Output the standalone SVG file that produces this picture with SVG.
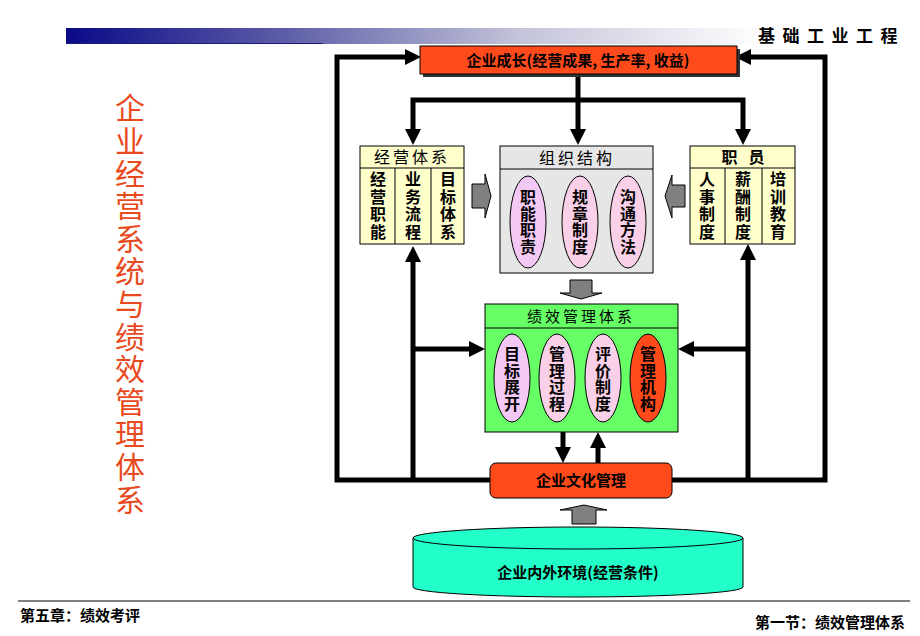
<svg xmlns="http://www.w3.org/2000/svg" width="920" height="636" viewBox="0 0 920 636">
<defs>
<linearGradient id="bar" x1="0" y1="0" x2="1" y2="0">
<stop offset="0" stop-color="#0a0a88"/>
<stop offset="0.3" stop-color="#5a5aa6"/>
<stop offset="0.65" stop-color="#c4c4da"/>
<stop offset="1" stop-color="#ffffff"/>
</linearGradient>
<marker id="ah" markerUnits="userSpaceOnUse" viewBox="0 0 16 16" markerWidth="16" markerHeight="16" refX="8" refY="8" orient="auto">
<path d="M0,0 L16,8 L0,16 Z" fill="#000"/>
</marker>
<style>
.cjk{font-family:"Noto Sans CJK SC","Noto Sans CJK JP",sans-serif}
.b{font-weight:bold}
.box{stroke:#000;stroke-width:1}
.yel{fill:#ffffcc}
.red{fill:#ff4b1c}
.pink{fill:#fad0e8;stroke:#000;stroke-width:1}
.vio{fill:#f4c8f4;stroke:#000;stroke-width:1}
.gray{fill:#808080;stroke:#000;stroke-width:1}
.conn{fill:none;stroke:#000;stroke-width:5;marker-end:url(#ah)}
.line{fill:none;stroke:#000;stroke-width:5}
.t16{font-size:16px}
.t15{font-size:15px}
.vt{font-size:16px;font-weight:bold;text-anchor:middle;writing-mode:vertical-rl}
.v1{letter-spacing:1.5px}
.v2{letter-spacing:0.5px}
</style>
</defs>
<rect width="920" height="636" fill="#fff"/>

<g id="header">
<rect x="66" y="28" width="700" height="16" fill="url(#bar)"/>
<line x1="66" y1="43.5" x2="323" y2="43.5" stroke="#1a1a80" stroke-width="1"/>
<text x="905" y="42" class="cjk b" font-size="17" text-anchor="end" letter-spacing="7.5">基础工业工程</text>
</g>

<g id="title">
<text x="130" y="305" class="cjk" font-size="30" fill="#e84a1e" text-anchor="middle" writing-mode="vertical-rl" letter-spacing="2.6">企业经营系统与绩效管理体系</text>
</g>

<g id="connectors">
<path class="line" d="M490,480 H337 V57 H412"/>
<path class="line" d="M672,480 H825 V57 H744"/>
<line x1="412" y1="57" x2="413" y2="57" class="conn"/>
<line x1="744" y1="57" x2="743" y2="57" class="conn"/>
<path class="conn" d="M578,74 V137"/>
<path class="line" d="M413,137 V100 H743 V137"/>
<line x1="413" y1="136" x2="413" y2="137" class="conn"/>
<line x1="743" y1="136" x2="743" y2="137" class="conn"/>
<path class="conn" d="M413,480 V254"/>
<path class="conn" d="M748,480 V252"/>
<path class="conn" d="M411,349 H477"/>
<path class="conn" d="M750,349 H686"/>
<path class="conn" d="M563,432 V455"/>
<path class="conn" d="M598,463 V440"/>
<polygon class="gray" points="472,184 485,184 485,174 491,196 485,218 485,208 472,208"/>
<polygon class="gray" points="685,185 672,185 672,175 665,196 672,218 672,207 685,207"/>
<polygon class="gray" points="570,280 592,280 592,293 602,293 581,299 560,293 570,293"/>
<polygon class="gray" points="572,524 596,524 596,510 607,510 584,505 560,510 572,510"/>
</g>

<g id="growth">
<rect x="423" y="49" width="317" height="28" fill="#333"/>
<rect x="420" y="46" width="317" height="28" class="box red"/>
<text x="578" y="66" class="cjk b t15" text-anchor="middle">企业成长(经营成果, 生产率, 收益)</text>
</g>

<g id="business">
<rect x="360" y="146" width="104" height="98" class="box yel"/>
<line x1="360" y1="168" x2="464" y2="168" stroke="#000"/>
<line x1="395" y1="168" x2="395" y2="244" stroke="#000"/>
<line x1="431" y1="168" x2="431" y2="244" stroke="#000"/>
<text x="412" y="163" class="cjk t16" text-anchor="middle" letter-spacing="3">经营体系</text>
<text x="378" y="206" class="cjk vt v1">经营职能</text>
<text x="413" y="206" class="cjk vt v1">业务流程</text>
<text x="448" y="206" class="cjk vt v1">目标体系</text>
</g>

<g id="org">
<rect x="500" y="146" width="153" height="127" class="box" fill="#e6e6e6"/>
<line x1="500" y1="169" x2="653" y2="169" stroke="#000"/>
<text x="577" y="164" class="cjk t16" text-anchor="middle" letter-spacing="3">组织结构</text>
<ellipse cx="528" cy="222" rx="18" ry="46" class="vio"/>
<ellipse cx="580" cy="222" rx="18" ry="46" class="pink"/>
<ellipse cx="628" cy="222" rx="18" ry="46" class="pink"/>
<text x="528" y="222" class="cjk vt v2">职能职责</text>
<text x="580" y="222" class="cjk vt v2">规章制度</text>
<text x="628" y="222" class="cjk vt v2">沟通方法</text>
</g>

<g id="staff">
<rect x="690" y="146" width="105" height="98" class="box yel"/>
<line x1="690" y1="168" x2="795" y2="168" stroke="#000"/>
<line x1="725" y1="168" x2="725" y2="244" stroke="#000"/>
<line x1="762" y1="168" x2="762" y2="244" stroke="#000"/>
<text x="743" y="163" class="cjk b t16" text-anchor="middle" xml:space="preserve">职   员</text>
<text x="707" y="206" class="cjk vt v1">人事制度</text>
<text x="743" y="206" class="cjk vt v1">薪酬制度</text>
<text x="778" y="206" class="cjk vt v1">培训教育</text>
</g>

<g id="performance">
<rect x="485" y="304" width="193" height="128" class="box" fill="#66ff66"/>
<line x1="485" y1="328" x2="678" y2="328" stroke="#000"/>
<text x="581" y="322" class="cjk t15" text-anchor="middle" letter-spacing="3">绩效管理体系</text>
<ellipse cx="512" cy="378" rx="18" ry="44" class="vio"/>
<ellipse cx="557" cy="378" rx="18" ry="44" class="pink"/>
<ellipse cx="603" cy="378" rx="18" ry="44" class="pink"/>
<ellipse cx="648" cy="378" rx="18" ry="44" class="box red"/>
<text x="512" y="379" class="cjk vt v2">目标展开</text>
<text x="557" y="379" class="cjk vt v2">管理过程</text>
<text x="603" y="379" class="cjk vt v2">评价制度</text>
<text x="648" y="379" class="cjk vt v2">管理机构</text>
</g>

<g id="culture">
<rect x="490" y="463" width="182" height="35" rx="6" class="box red"/>
<text x="581" y="486" class="cjk b t15" text-anchor="middle">企业文化管理</text>
</g>

<g id="environment">
<path d="M413,538 V587 A165,10 0 0 0 743,587 V538 Z" fill="#22ffc8" stroke="#000" stroke-width="1"/>
<ellipse cx="578" cy="538" rx="165" ry="11" fill="#22ffc8" stroke="#000" stroke-width="1"/>
<text x="578" y="578" class="cjk b t15" text-anchor="middle">企业内外环境(经营条件)</text>
</g>

<g id="footer">
<line x1="18" y1="601" x2="910" y2="601" stroke="#000" stroke-width="1"/>
<text x="20" y="621" class="cjk b t15">第五章：绩效考评</text>
<text x="905" y="628" class="cjk b t15" text-anchor="end">第一节：绩效管理体系</text>
</g>
</svg>
